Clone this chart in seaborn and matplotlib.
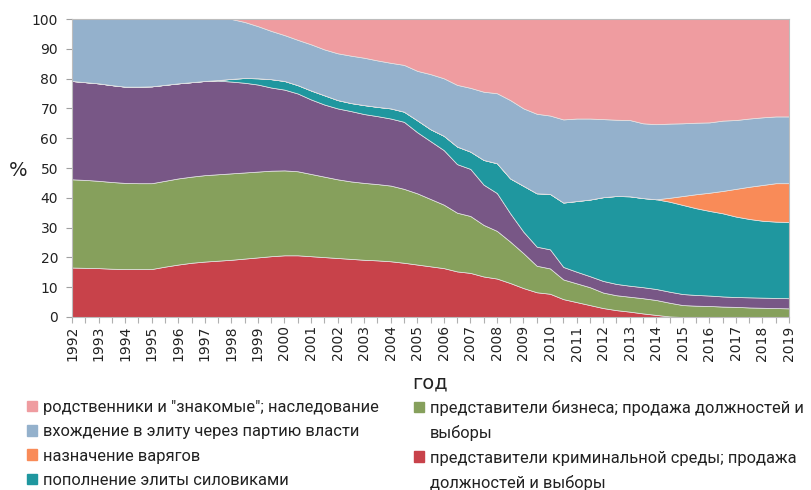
import numpy as np
import pandas as pd
import matplotlib
matplotlib.use("Agg")
import matplotlib.pyplot as plt
import seaborn as sns
from matplotlib.patches import Patch

# half-year observation points 1992 ... 2019
periods = np.arange(1992, 2019.01, 0.5)
year_labels = [str(int(p)) if float(p).is_integer() else "" for p in periods]

# shares, % (stacked bottom -> top)
criminal = [16.6, 16.5, 16.4, 16.2, 16.1, 16.1, 16.1, 16.9, 17.6, 18.2, 18.6, 18.9, 19.2, 19.6, 20.0,
            20.4, 20.7, 20.7, 20.4, 20.1, 19.8, 19.5, 19.2, 19.0, 18.7, 18.2, 17.6, 17.0, 16.4, 15.3,
            14.8, 13.6, 12.9, 11.4, 9.7, 8.3, 7.8, 6.0, 5.0, 4.0, 3.0, 2.3, 1.8, 1.2, 0.7, 0.2,
            0, 0, 0, 0, 0, 0, 0, 0, 0]
business = [29.6, 29.5, 29.3, 29.1, 28.9, 28.8, 28.8, 28.8, 28.9, 28.9, 29.0, 29.0, 29.0, 28.9, 28.8,
            28.7, 28.5, 28.2, 27.6, 27.0, 26.4, 26.0, 25.8, 25.6, 25.4, 24.8, 23.9, 22.6, 21.3, 19.7,
            19.1, 17.3, 16.0, 13.9, 11.7, 8.9, 8.5, 6.6, 6.3, 6.0, 5.2, 5.0, 5.0, 5.1, 5.0, 4.6,
            4.0, 3.8, 3.7, 3.5, 3.4, 3.2, 3.1, 3.0, 2.9]
purple_grp = [33.0, 32.8, 32.7, 32.5, 32.3, 32.4, 32.5, 32.2, 31.9, 31.7, 31.6, 31.4, 30.8, 30.1, 29.2,
              27.9, 27.1, 26.1, 25.0, 24.2, 23.8, 23.6, 23.1, 22.8, 22.5, 22.5, 20.5, 19.4, 18.3, 16.3,
              15.8, 13.5, 12.7, 9.5, 7.2, 6.4, 6.4, 4.2, 3.9, 3.7, 3.9, 3.8, 3.7, 3.7, 3.7, 3.7,
              3.7, 3.6, 3.5, 3.4, 3.3, 3.4, 3.4, 3.4, 3.4]
siloviki = [0, 0, 0, 0, 0, 0, 0, 0, 0, 0, 0, 0.2, 0.9, 1.6, 2.1,
            2.8, 2.9, 2.8, 3.0, 3.1, 2.8, 2.7, 3.0, 3.1, 3.4, 3.4, 4.0, 4.0, 4.8, 5.9,
            5.8, 8.3, 10.0, 11.7, 15.4, 17.9, 18.6, 21.6, 23.7, 25.7, 28.1, 29.5, 30.0, 29.9, 30.1, 30.2,
            29.9, 29.1, 28.4, 27.9, 27.0, 26.3, 25.8, 25.6, 25.6]
varyagi = [0] * 45 + [1.3, 3.0, 4.7, 6.1, 7.5, 9.3, 10.8, 12.0, 12.9, 13.0]
party = [20.8, 21.2, 21.6, 22.2, 22.7, 22.7, 22.6, 22.1, 21.6, 21.2, 20.8, 20.5, 20.1, 18.8, 17.5,
         16.2, 15.4, 15.2, 15.5, 15.4, 15.7, 15.9, 15.9, 15.6, 15.3, 15.7, 16.6, 18.5, 19.3, 20.7,
         21.4, 22.9, 23.5, 26.3, 26.0, 26.7, 26.3, 27.9, 27.7, 27.2, 26.2, 25.6, 25.6, 25.1, 25.2, 24.9,
         24.4, 24.0, 23.6, 23.6, 23.1, 22.9, 22.7, 22.4, 22.4]
relatives = [0, 0, 0, 0, 0, 0, 0, 0, 0, 0, 0, 0, 0, 1.0, 2.4,
             4.0, 5.4, 7.0, 8.5, 10.2, 11.5, 12.3, 13.0, 13.9, 14.7, 15.4, 17.4, 18.5, 19.9, 22.1,
             23.1, 24.4, 24.9, 27.2, 30.0, 31.8, 32.4, 33.7, 33.4, 33.4, 33.6, 33.8, 33.9, 35.0, 35.3, 35.1,
             35.0, 34.8, 34.7, 34.1, 33.9, 33.4, 33.0, 32.7, 32.7]

lbl_rel = 'родственники и "знакомые"; наследование'
lbl_party = "вхождение в элиту через партию власти"
lbl_var = "назначение варягов"
lbl_sil = "пополнение элиты силовиками"
lbl_bus = ["представители бизнеса; продажа должностей и", "выборы"]
lbl_crim = ["представители криминальной среды; продажа", "должностей и выборы"]

df = pd.DataFrame({
    "criminal": criminal, "business": business, "purple": purple_grp,
    "siloviki": siloviki, "varyagi": varyagi, "party": party, "relatives": relatives,
}, index=periods)

colors = {
    "criminal": "#C8424A", "business": "#86A05C", "purple": "#785786",
    "siloviki": "#1F979F", "varyagi": "#F98B58", "party": "#94B1CC", "relatives": "#EF9CA0",
}
order = ["criminal", "business", "purple", "siloviki", "varyagi", "party", "relatives"]

sns.set_theme(style="white")
plt.rcParams["font.family"] = ["DejaVu Sans"]

fig = plt.figure(figsize=(8.12, 4.9), dpi=100)
ax = fig.add_axes([72 / 812, 1 - 317 / 490, (789 - 72) / 812, (317 - 19) / 490])

ax.stackplot(df.index, [df[c].values for c in order], colors=[colors[c] for c in order],
             edgecolor="#e4e4e4", linewidth=0.5)

ax.set_xlim(1992, 2019)
ax.set_ylim(0, 100)
ax.set_yticks(range(0, 101, 10))
ax.set_xticks(periods)
ax.set_xticklabels(year_labels, rotation=90)
ax.tick_params(axis="y", which="both", left=True, length=4, width=0.8, color="#a0a0a0",
               labelsize=10, pad=6, labelcolor="#222222")
ax.tick_params(axis="x", which="both", bottom=True, length=4, width=0.8, color="#b0b0b0",
               labelsize=10, pad=2, labelcolor="#222222")
for s in ax.spines.values():
    s.set_color("#bdbdbd")
    s.set_linewidth(0.8)
ax.grid(False)

fig.text(18 / 812, 1 - 170 / 490, "%", fontsize=14, ha="center", va="center", color="#222222")
fig.text(430 / 812, 1 - 383 / 490, "год", fontsize=14, ha="center", va="center", color="#222222")

leg_font = {"family": ["Roboto", "DejaVu Sans"], "size": 11.9}
leg_kw = dict(loc="upper left", frameon=False, prop=leg_font, handlelength=0.6,
              handleheight=0.6, handletextpad=0.35, labelspacing=0.56,
              borderpad=0, borderaxespad=0)
h_left = [Patch(color=colors[c]) for c in ["relatives", "party", "varyagi", "siloviki"]]
leg1 = fig.legend(h_left, [lbl_rel, lbl_party, lbl_var, lbl_sil],
                  bbox_to_anchor=(27 / 812, 1 - 400 / 490), **leg_kw)
h_right = [Patch(color=colors["business"]), Patch(color="none"),
           Patch(color=colors["criminal"]), Patch(color="none")]
leg2 = fig.legend(h_right, lbl_bus + lbl_crim,
                  bbox_to_anchor=(414 / 812, 1 - 400 / 490), **leg_kw)
for lg in (leg1, leg2):
    for t in lg.get_texts():
        t.set_color("#222222")

fig.savefig("out.png", dpi=100)
